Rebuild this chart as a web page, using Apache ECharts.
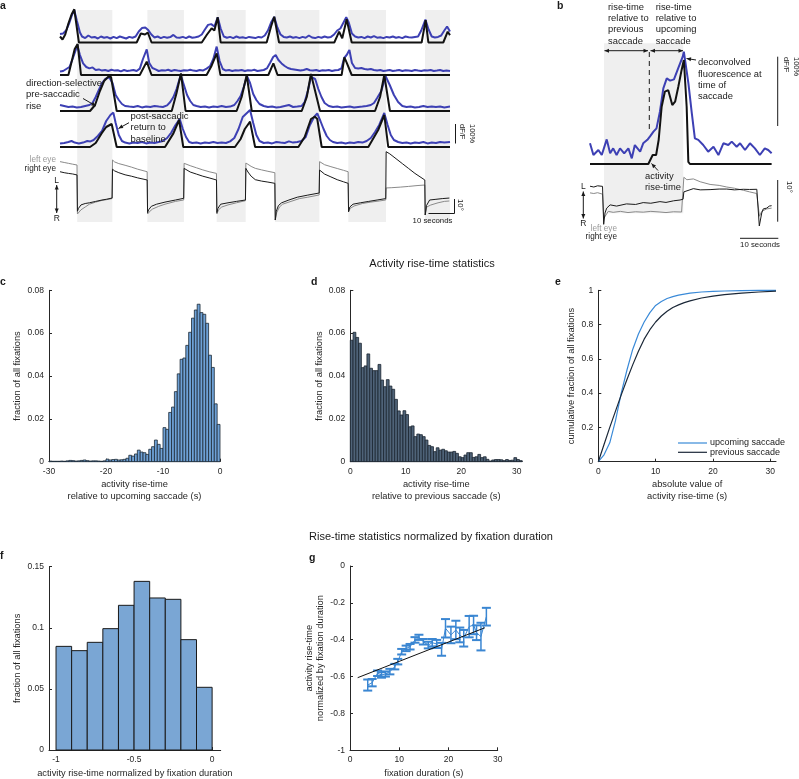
<!DOCTYPE html>
<html><head><meta charset="utf-8">
<script src="https://cdn.jsdelivr.net/npm/echarts@6/dist/echarts.min.js"></script>
<style>html,body{margin:0;padding:0;background:#fff}#c{width:799px;height:779px}</style>
</head><body><div id="c"></div><script>
// ---------- Panel a data (time in s, dF/F in %) ----------
const aBands = [[8.2,24.9],[41.6,59],[74.6,88.4],[102.4,123.5],[137.3,155.2],[173.8,185.7]];
const a1Black = [[0,30],[1.2,15],[2.5,40],[4,95],[5.5,140],[6.8,166],[9,0],[36.5,0],[38.5,45],[39.3,54],[40.5,40],[41.8,50],[43.6,0],[67.5,0],[70,40],[72.2,71],[73.5,60],[75.1,126],[76.5,0],[98.4,0],[100.5,80],[102,129],[104.3,0],[130.6,0],[132.9,54],[134.4,21],[136.5,116],[138.9,0],[172.2,0],[174.1,112],[175.4,0],[182.5,0],[184.6,54],[185.7,37]];
const a1Blue = [[0,42],[1.5,45],[3,62],[4.5,100],[5.8,140],[6.8,162],[8,110],[9.5,50],[10.5,30],[12,22],[13.5,35],[15,25],[16.5,28],[18,20],[19.5,30],[21,24],[22.5,27],[24,20],[25.5,28],[27,22],[28.5,30],[30,25],[31.5,20],[33,28],[34.5,24],[36,30],[37.5,55],[39,72],[40.6,75],[42,62],[43.5,40],[45,25],[46.5,30],[48,22],[49.5,28],[51,24],[52.5,27],[54,38],[55.5,25],[57,24],[58.5,28],[60,22],[61.5,30],[63,24],[64.5,26],[66,30],[67.5,40],[69,65],[70.5,88],[72,92],[73.5,80],[75.1,126],[76.5,70],[78,30],[79.5,24],[81,28],[82.5,22],[84,30],[85.5,24],[87,26],[88.5,22],[90,28],[91.5,25],[93,22],[94.5,28],[96,25],[97.5,35],[99,60],[100.5,100],[102,128],[103.5,75],[105,40],[106.5,28],[108,25],[109.5,30],[111,24],[112.5,27],[114,22],[115.5,28],[117,24],[118.5,35],[120,25],[121.5,22],[123,28],[124.5,24],[126,30],[127.5,25],[129,28],[130.5,40],[132,60],[133.5,70],[135,100],[136.3,126],[137.5,100],[139,45],[140.5,30],[142,25],[143.5,28],[145,22],[146.5,30],[148,25],[149.5,32],[151,24],[152.5,26],[154,22],[155.5,28],[157,25],[158.5,30],[160,24],[161.5,27],[163,22],[164.5,30],[166,26],[167.5,25],[169,28],[170.5,30],[172,60],[174,115],[175.5,65],[177,30],[178.5,25],[180,28],[181.5,35],[183,60],[184.3,80],[185.7,55]];
const a2Black = [[0,0],[4,0],[7,130],[8.4,155],[10,0],[38,0],[41.3,67],[43.6,0],[69.8,0],[72,42],[74.6,108],[76.4,0],[99.2,0],[101.6,58],[103.6,0],[134.1,0],[135.4,88],[136.5,62],[137.3,72],[138.9,0],[185.7,0]];
const a2Blue = [[0,17],[1.5,20],[3,30],[4.5,40],[6,80],[7.5,125],[8.2,150],[9.5,100],[11,58],[12.5,40],[14,33],[15.5,38],[17,25],[18.5,28],[20,22],[21.5,25],[23,20],[24.5,26],[26,22],[27.5,24],[29,18],[30.5,25],[32,20],[33.5,22],[35,25],[36.5,20],[38,32],[39.5,80],[41.3,128],[42.5,60],[44,35],[45.5,28],[47,20],[48.5,24],[50,22],[51.5,26],[53,20],[54.5,25],[56,22],[57.5,20],[59,24],[60.5,22],[62,26],[63.5,22],[65,20],[66.5,25],[68,22],[69.8,32],[71.5,45],[73,80],[74.6,142],[76,70],[77.5,30],[79,22],[80.5,25],[82,20],[83.5,24],[85,22],[86.5,25],[88,20],[89.5,24],[91,22],[92.5,26],[94,20],[95.5,23],[97,25],[98.5,33],[100,60],[101.5,90],[102.7,100],[104,75],[105.5,58],[107,45],[108.5,35],[110,30],[111.5,28],[113,25],[114.5,22],[116,25],[117.5,30],[119,24],[120.5,22],[122,25],[123.5,20],[125,24],[126.5,22],[128,25],[129.5,20],[131,24],[132.5,25],[134,33],[135.3,85],[136.5,100],[137.8,125],[139,60],[140.5,35],[142,33],[143.5,35],[145,30],[146.5,28],[148,30],[149.5,25],[151,22],[152.5,25],[154,20],[155.5,22],[157,25],[158.5,20],[160,22],[161.5,25],[163,20],[164.5,24],[166,22],[167.5,20],[169,25],[170.5,22],[172,20],[173.5,24],[175,22],[176.5,25],[178,20],[179.5,22],[181,25],[182.5,20],[184,22],[185.7,20]];
const a3Black = [[0,0],[14.3,0],[16.7,30],[19,100],[21,150],[23,172],[24.3,170],[27,0],[53.2,0],[55.5,90],[57.6,188],[59.8,0],[84.1,0],[86.5,70],[88.9,180],[91.3,0],[115.1,0],[117.5,70],[119.5,185],[123.8,0],[150,0],[152.4,70],[154.4,180],[157.1,0],[185.7,0]];
const a3Blue = [[0,30],[2,25],[4,20],[6,22],[8,18],[10,20],[12,25],[14,30],[15.5,40],[17,70],[18.5,105],[20,140],[21.5,160],[23.5,168],[25,140],[26.5,80],[28,55],[29.5,35],[31,25],[33,22],[35,20],[37,25],[39,18],[41,22],[43,20],[45,25],[47,22],[49,20],[51,28],[52.5,45],[54,70],[55.5,110],[57.5,180],[59,130],[60.5,80],[62,50],[63.5,30],[65,25],[67,20],[69,22],[71,18],[73,22],[75,20],[77,25],[79,20],[81,22],[83,30],[84.5,50],[86,75],[87.5,120],[89,175],[90.5,140],[92,85],[93.5,55],[95,35],[97,25],[99,20],[101,22],[103,18],[105,20],[107,25],[109,30],[111,20],[113,22],[115,25],[116.5,45],[118,100],[119.5,170],[121.5,160],[123,110],[124.5,70],[126,40],[128,25],[130,20],[132,22],[134,18],[136,20],[138,22],[140,18],[142,20],[144,22],[146,25],[148,30],[149.5,40],[151,65],[153,100],[155,175],[157,130],[159,80],[161,45],[163,25],[165,20],[167,22],[169,18],[171,20],[173,25],[175,20],[177,22],[179,20],[181,22],[183,18],[185.7,22]];
const a4Black = [[0,0],[14.3,0],[17,20],[19.8,68],[22,100],[24.6,115],[25.5,110],[27,0],[50,0],[54,68],[56.7,135],[58.7,0],[83.3,0],[86,40],[88,90],[90.5,127],[92.9,0],[113.5,0],[116.5,50],[119.5,140],[121.4,152],[122.5,140],[124.6,0],[146.8,0],[151.5,85],[154.4,160],[156.3,0],[185.7,0]];
const a4Blue = [[0,17],[2,20],[4,25],[5.5,30],[7,22],[9,18],[11,22],[13,30],[14.5,28],[16,35],[18,55],[20,80],[22,130],[24,160],[25.4,172],[26.5,120],[28,60],[29.5,30],[31,22],[33,18],[35,22],[37,20],[39,25],[41,18],[43,22],[45,20],[47,25],[49,30],[51,45],[53,72],[55,110],[57,140],[58.5,90],[60,50],[61.5,25],[63,20],[65,22],[67,18],[69,22],[71,20],[73,25],[75,20],[77,22],[79,20],[81,28],[83,45],[85,90],[87,150],[89,170],[90.5,185],[92,120],[93.5,60],[95,30],[97,20],[99,22],[101,18],[103,25],[105,22],[107,20],[109,28],[111,22],[113,25],[115,30],[117,50],[119,110],[121,150],[122.5,168],[124,130],[125.5,90],[127,55],[128.5,35],[130,25],[132,20],[134,22],[136,18],[138,22],[140,20],[142,25],[144,22],[146,30],[148,45],[150,75],[152,110],[154.4,170],[156,110],[157.5,60],[159,35],[161,25],[163,20],[165,22],[167,18],[169,22],[171,20],[173,25],[175,18],[177,22],[179,20],[181,25],[183,22],[185.7,25]];
// eye position (deg), right eye = black, left eye = gray
const aEyeRight = [[0,10.2],[2,9.5],[4,9],[6,8.6],[8.1,7.9],[8.3,-18],[8.8,-16],[10,-13.5],[12,-12.5],[14,-12],[17,-11],[20,-10],[22,-9.5],[24.8,-8.6],[25,12],[26,10.8],[28,9.5],[31,8],[34,7],[37,5.8],[41.5,4.3],[41.7,-19],[42.2,-17],[43.5,-14.5],[46,-13],[50,-11.5],[55,-10],[58.9,-8.8],[59.1,12.6],[60,11.5],[62,10],[65,8.5],[68,7],[71,5.8],[74.5,4.3],[74.7,-19],[75.2,-16],[76.5,-13],[80,-12],[84,-11],[88.3,-10],[88.5,12.6],[89.5,10],[91,7],[93,4.5],[96,3.5],[99,2.8],[102.3,1.9],[102.5,-24.3],[103,-18],[104,-14],[105.5,-12],[109,-10],[113,-8],[118,-6.5],[123.4,-5],[123.6,11.4],[124.5,10.2],[126,8.5],[129,6.5],[132,4.5],[135,3],[137.2,1.9],[137.4,-18.4],[138,-15],[139.5,-13],[143,-12],[147,-11],[151,-10],[155.1,-9],[155.3,24.5],[157,23],[160,19.5],[163,16],[166,12.5],[169,9],[173.7,4.3],[173.9,-20.7],[174.5,-14],[176,-10],[179,-9.5],[182,-9],[185.4,-8.6]];
const aEyeLeft = [[0,17.4],[2,16.8],[4,16.2],[6,15.6],[8.1,15],[8.3,-20],[9,-19],[10,-17],[12,-15],[14,-13],[17,-11.5],[20,-10.3],[22,-9.8],[24.8,-9],[25,18.6],[26,17.2],[28,16],[31,14.8],[34,13.5],[37,12],[41.5,10.2],[41.7,-20],[42.5,-18.5],[44,-16.5],[47,-14.5],[50,-13],[55,-11],[58.9,-10],[59.1,16.2],[60,15.5],[62,14.5],[65,13],[68,11.5],[71,10.2],[74.5,9],[74.7,-20],[75.5,-17],[77,-15],[80,-13.5],[84,-12],[88.3,-10.5],[88.5,16.4],[89.5,15.5],[91,14],[93,12.6],[96,11.5],[99,10.5],[102.3,9.5],[102.5,-24.3],[103.2,-19],[104.5,-15],[106,-13],[110,-11],[114,-9],[118,-8],[123.4,-6.4],[123.6,17.4],[124.5,16.5],[126,15.2],[129,13.8],[132,12.5],[135,11.2],[137.2,10.2],[137.4,-18.4],[138.2,-16],[140,-14.3],[144,-12.5],[148,-11.5],[152,-10.7],[155.1,-10],[155.3,-1.4],[158,-1.2],[162,-0.8],[166,-0.3],[170,0.3],[173.7,0.7],[173.9,-20.7],[174.6,-15],[176.5,-13.6],[180,-12],[183,-11],[185.4,-10.7]];

// ---------- Panel b data ----------
const bBands = [[3.68,24.55]];
const bBlue = [[0,30],[0.9,13],[2.2,20.3],[3.1,13],[4.4,35.7],[5.3,15.5],[6.1,22.7],[7,13],[7.9,22.7],[9,15.5],[10.1,22.7],[11,8.2],[11.8,27.5],[13.2,17.9],[14,30],[15.1,35],[15.8,40],[16.7,47],[17.5,51.7],[18.4,75.8],[19.3,109.7],[20.2,124.2],[21.1,120.8],[22.1,122.7],[23.2,138.7],[24.4,155.6],[24.7,162.8],[25.9,117],[26.8,73.4],[27.6,37.2],[28.5,35],[29.8,27.5],[31.1,17.9],[32.5,25.1],[33.8,13],[35.1,30],[36.4,27.5],[37.3,32.4],[38.6,25.1],[39.5,30],[40.8,20.3],[42.1,30],[43.4,22.7],[44.7,13],[46,22.7],[46.9,20.3],[47.8,15.5]];
const bBlack = [[0,0],[15.35,0],[16.5,13],[17.4,13],[18.07,34.8],[18.86,83],[19.7,104.8],[20.6,107],[21.66,85.5],[22.4,90.3],[23.24,112],[24.1,136],[24.7,150.7],[25.44,83],[25.88,3],[26.3,0],[47.8,0]];
const bEyeRight = [[0,3.4],[1,3.2],[2,3.5],[3.3,3.36],[3.6,-6],[3.95,-3.2],[4.4,-2],[5.3,-1.2],[7,-1.5],[9.6,-0.96],[12,-1.1],[14,-0.64],[16,-0.8],[18.4,-0.4],[20,-0.6],[22,-0.2],[23.7,0],[24.5,0.2],[24.7,2],[25,2],[27.2,2.8],[29,2.5],[31.6,2.56],[34,2.7],[36,2.7],[38,2.5],[40.35,2.64],[42,2.6],[43.9,2.64],[44.2,2.5],[44.56,-6.4],[45.2,-3.2],[45.6,-2.2],[46.5,-2],[47.2,-1.5],[47.8,-1.4]];
const bEyeLeft = [[0,1.76],[1,1.6],[2,1.8],[3.3,1.44],[3.6,-4.5],[4,-4],[4.8,-2.8],[6.1,-3.04],[8,-2.8],[10,-3.1],[12,-2.9],[14,-3.0],[16,-2.8],[18.4,-2.96],[20,-3.1],[22,-2.9],[24.1,-2.96],[24.4,-2.8],[24.7,5.6],[25.5,5.0],[27.2,5.2],[29,4.5],[31.6,3.84],[34,3.6],[36,3.2],[38,2.9],[40.35,2.4],[42,2.0],[43.86,1.6],[44.3,1.4],[44.6,-4],[45.2,-2.8],[45.6,-2.5],[46.5,-2.2],[47.8,-2]];

// ---------- Panel c: histogram, rise-time relative to upcoming saccade ----------
const cBinStart = -30, cBinWidth = 0.5;
const cValues = [0.0003,0.0002,0.0002,0.0002,0.0003,0.0002,0.0004,0.0006,0.0005,0.0003,0.0004,0.0006,0.0008,0.0005,0.0003,0.0004,0.0004,0.0003,0.0002,0.0004,
 0.0012,0.0008,0.001,0.0011,0.0008,0.0009,0.0011,0.0016,0.003,0.0026,0.0036,0.0054,0.0045,0.0042,0.0034,0.0058,0.007,0.0101,0.0081,0.0062,
 0.0159,0.0151,0.023,0.0255,0.0327,0.041,0.0478,0.0484,0.0543,0.0604,0.067,0.0708,0.0735,0.0696,0.0688,0.0646,0.0497,0.044,0.027,0.0174];
// ---------- Panel d: histogram, rise-time relative to previous saccade ----------
const dBinStart = 0, dBinWidth = 0.5;
const dValues = [0.0567,0.0604,0.058,0.0553,0.0439,0.0447,0.0503,0.0436,0.0425,0.0425,
 0.0454,0.0381,0.035,0.0383,0.0353,0.0338,0.0291,0.0237,0.0218,0.0238,
 0.022,0.0163,0.0167,0.0117,0.0129,0.0126,0.0117,0.0101,0.0076,0.007,
 0.0047,0.0065,0.0054,0.0058,0.0051,0.0045,0.0045,0.0048,0.0039,0.0023,
 0.0019,0.0031,0.0042,0.0042,0.002,0.0023,0.0034,0.0019,0.0023,0.0011,
 0.0003,0.0008,0.001,0.001,0.0009,0.0005,0.001,0.0006,0.0007,0.0019,0.001,0.0005];
// ---------- Panel e: cumulative distributions ----------
const eX = [0,1,2,3,4,5,6,7,8,9,10,11,12,13,14,15,16,18,20,22,25,28,31];
const eUpcoming = [0,0.04,0.11,0.24,0.4,0.535,0.655,0.745,0.815,0.87,0.912,0.935,0.952,0.963,0.972,0.978,0.983,0.99,0.994,0.996,0.998,0.999,1];
const ePrevious = [0,0.1,0.2,0.295,0.39,0.48,0.565,0.645,0.715,0.77,0.815,0.85,0.878,0.9,0.915,0.928,0.938,0.955,0.966,0.975,0.984,0.99,0.995];
// ---------- Panel f: normalized rise-time histogram ----------
const fBinStart = -1, fBinWidth = 0.1;
const fValues = [0.0848,0.0813,0.0881,0.0993,0.1184,0.138,0.1244,0.1233,0.0903,0.0513];
// ---------- Panel g: normalized rise-time vs fixation duration ----------
const gX = [3.6,4.5,5.6,6.4,7.2,8.1,9.1,9.7,10.5,11.4,12.2,13.2,14.0,14.9,15.9,16.7,17.6,18.6,19.4,20.5,21.5,22.3,23.1,24.2,25.1,25.7,26.6,27.7];
const gY = [-0.646,-0.633,-0.582,-0.591,-0.586,-0.573,-0.546,-0.519,-0.465,-0.447,-0.438,-0.401,-0.387,-0.411,-0.429,-0.416,-0.423,-0.452,-0.338,-0.374,-0.347,-0.374,-0.392,-0.329,-0.320,-0.362,-0.383,-0.275];
const gErr = [0.03,0.02,0.015,0.015,0.014,0.015,0.015,0.015,0.015,0.015,0.015,0.015,0.014,0.015,0.018,0.02,0.022,0.035,0.05,0.045,0.05,0.04,0.045,0.058,0.05,0.04,0.075,0.048];
const gFit = [[1.56,-0.606],[27.4,-0.335]];

// ---------- drawing ----------
const FONT = '"Liberation Sans", Arial, Helvetica, sans-serif';
const AX = '#262626';
const BLUE_TRACE = '#3d40b4', BLACK_TRACE = '#121212', GRAY_EYE = '#8a8a8a';

const grids = [
  {left:60, top:10, width:390, height:212},      //0 a bands
  {left:60, top:2.5, width:390, height:40},      //1 a row1
  {left:60, top:35, width:390, height:40},       //2 a row2
  {left:60, top:71, width:390, height:40},       //3 a row3
  {left:60, top:107, width:390, height:40},      //4 a row4
  {left:60, top:151, width:390, height:70},      //5 a eye
  {left:590, top:43.3, width:182, height:170},   //6 b band
  {left:590, top:46.7, width:182, height:117.3}, //7 b neural
  {left:590, top:170.8, width:182, height:58.4}, //8 b eye
  {left:49, top:290.3, width:171, height:171.4}, //9 c
  {left:350.3, top:290.3, width:171.9, height:171.4}, //10 d
  {left:598.3, top:290.3, width:177.7, height:171.4}, //11 e
  {left:49, top:566.7, width:171.7, height:183.3},    //12 f
  {left:350, top:566, width:147.7, height:184.3}      //13 g
].map(g => Object.assign({containLabel:false, outerBoundsMode:'none'}, g));

function hid(grid, min, max){ return {type:'value', gridIndex:grid, min, max, show:false, splitLine:{show:false}}; }
function vis(grid, min, max, o){
  return {type:'value', gridIndex:grid, min, max, interval:o.interval,
    axisLine:{show:true, onZero:false, lineStyle:{color:AX, width:1}},
    axisTick:{show:true, inside:true, length:3, lineStyle:{color:AX}, customValues:o.ticks},
    axisLabel:{fontSize:8.5, color:AX, fontFamily:FONT, margin:o.margin||5, customValues:o.ticks},
    splitLine:{show:false},
    name:o.name, nameLocation:'middle', nameGap:o.gap, nameRotate:o.rot||0,
    nameTextStyle:{fontSize:9.3, color:AX, fontFamily:FONT, lineHeight:11.5}};
}
const xAxis = [
  hid(0,0,185.7),hid(1,0,185.7),hid(2,0,185.7),hid(3,0,185.7),hid(4,0,185.7),hid(5,0,185.7),
  hid(6,0,47.9),hid(7,0,47.9),hid(8,0,47.9),
  vis(9,-30,0,{interval:10, name:'activity rise-time\nrelative to upcoming saccade (s)', gap:17}),
  vis(10,0,31,{ticks:[0,10,20,30], name:'activity rise-time\nrelative to previous saccade (s)', gap:17}),
  vis(11,0,31,{ticks:[0,10,20,30], name:'absolute value of\nactivity rise-time (s)', gap:17}),
  vis(12,-1.045,0.055,{ticks:[-1,-0.5,0], name:'activity rise-time normalized by fixation duration', gap:18}),
  vis(13,0,30,{interval:10, name:'fixation duration (s)', gap:17})
];
const yAxis = [
  hid(0,0,1),hid(1,0,200),hid(2,0,200),hid(3,0,200),hid(4,0,200),hid(5,-25,25),
  hid(6,0,1),hid(7,0,170),hid(8,-7.2,7.2),
  vis(9,0,0.08,{interval:0.02, name:'fraction of all fixations', gap:24, rot:90}),
  vis(10,0,0.08,{interval:0.02, name:'fraction of all fixations', gap:24, rot:90}),
  vis(11,0,1,{interval:0.2, name:'cumulative fraction of all fixations', gap:18, rot:90}),
  vis(12,0,0.15,{interval:0.05, name:'fraction of all fixations', gap:24, rot:90}),
  vis(13,-1,0,{interval:0.2, name:'activity rise-time\nnormalized by fixation duration', gap:18, rot:90})
];

function line(idx, data, color, width, z){
  return {type:'line', xAxisIndex:idx, yAxisIndex:idx, data, symbol:'none', showSymbol:false, silent:true,
    clip:false, z:z||3, lineStyle:{color, width}, animation:false};
}
function bandSeries(idx, bands){
  return {type:'custom', xAxisIndex:idx, yAxisIndex:idx, data:bands, silent:true, z:0,
    renderItem:(p, api) => { const a = api.coord([api.value(0),1]); const b = api.coord([api.value(1),0]);
      return {type:'rect', shape:{x:a[0], y:a[1], width:b[0]-a[0], height:b[1]-a[1]}, style:{fill:'#efefef'}}; }};
}
function hist(idx, start, w, vals, fill, stroke, lw){
  const data = vals.map((v,i) => [start+i*w, start+(i+1)*w, v]);
  return {type:'custom', xAxisIndex:idx, yAxisIndex:idx, data, silent:true, encode:{x:[0,1], y:2},
    renderItem:(p, api) => { const a = api.coord([api.value(0), api.value(2)]); const b = api.coord([api.value(1), 0]);
      return {type:'rect', shape:{x:a[0], y:a[1], width:b[0]-a[0], height:b[1]-a[1]}, style:{fill, stroke, lineWidth:lw}}; }};
}
const zip = (xs, ys) => xs.map((x,i) => [x, ys[i]]);
const G_BLUE = '#3a86d2';

const series = [
  bandSeries(0, aBands),
  line(1, a1Blue, BLUE_TRACE, 2), line(1, a1Black, BLACK_TRACE, 2, 4),
  line(2, a2Blue, BLUE_TRACE, 2), line(2, a2Black, BLACK_TRACE, 2, 4),
  line(3, a3Blue, BLUE_TRACE, 2), line(3, a3Black, BLACK_TRACE, 2, 4),
  line(4, a4Blue, BLUE_TRACE, 2), line(4, a4Black, BLACK_TRACE, 2, 4),
  line(5, aEyeLeft, GRAY_EYE, 1), line(5, aEyeRight, '#1a1a1a', 1, 4),
  bandSeries(6, bBands),
  line(7, bBlue, BLUE_TRACE, 2), line(7, bBlack, BLACK_TRACE, 2, 4),
  line(8, bEyeLeft, GRAY_EYE, 1), line(8, bEyeRight, '#1a1a1a', 1, 4),
  hist(9, cBinStart, cBinWidth, cValues, '#6ea1d6', '#1d2935', 0.8),
  hist(10, dBinStart, dBinWidth, dValues, '#4f6378', '#1a2430', 0.8),
  line(11, zip(eX, eUpcoming), '#3a8ad8', 1.2),
  line(11, zip(eX, ePrevious), '#1b2838', 1.2),
  hist(12, fBinStart, fBinWidth, fValues, '#7aa6d4', '#1a1a1a', 1),
  line(13, zip(gX, gY), G_BLUE, 1),
  {type:'custom', xAxisIndex:13, yAxisIndex:13, silent:true, z:4,
   data: gX.map((x,i) => [x, gY[i], gErr[i]]),
   renderItem:(p, api) => { const x = api.value(0), y = api.value(1), e = api.value(2);
     const t = api.coord([x, y+e]), b = api.coord([x, y-e]); const hw = 4.5;
     const st = {stroke:G_BLUE, lineWidth:1.5};
     return {type:'group', children:[
       {type:'line', shape:{x1:t[0], y1:t[1], x2:b[0], y2:b[1]}, style:st},
       {type:'line', shape:{x1:t[0]-hw, y1:t[1], x2:t[0]+hw, y2:t[1]}, style:{stroke:G_BLUE, lineWidth:2}},
       {type:'line', shape:{x1:b[0]-hw, y1:b[1], x2:b[0]+hw, y2:b[1]}, style:{stroke:G_BLUE, lineWidth:2}}]}; }},
  line(13, gFit, '#111', 1, 5)
];

// ---------- annotation graphics ----------
function txt(x, y, text, o){ o = o || {};
  return {type:'text', x, y, rotation:o.rot||0, silent:true, z:10,
    style:{text, fill:o.color||'#1a1a1a', fontSize:o.size||9.4, fontFamily:FONT, fontWeight:o.weight||'normal',
      align:o.align||'left', verticalAlign:o.va||'top', lineHeight:o.lh||11.5}}; }
function seg(x1,y1,x2,y2,o){ o = o || {};
  return {type:'line', silent:true, z:10, shape:{x1,y1,x2,y2}, style:{stroke:o.color||'#1a1a1a', lineWidth:o.w||1, lineDash:o.dash||null}}; }
function head(x, y, ang){ const L=4.5, W=2;
  const bx = x - L*Math.cos(ang), by = y - L*Math.sin(ang), px = -Math.sin(ang)*W, py = Math.cos(ang)*W;
  return {type:'polygon', silent:true, z:10, shape:{points:[[x,y],[bx+px,by+py],[bx-px,by-py]]}, style:{fill:'#1a1a1a'}}; }
function arrow(x1,y1,x2,y2,dbl){ const ang = Math.atan2(y2-y1, x2-x1);
  const out = [seg(x1,y1,x2,y2), head(x2,y2,ang)]; if (dbl) out.push(head(x1,y1,ang+Math.PI)); return out; }

const ROT = -Math.PI/2;
const graphic = [
  // panel labels
  txt(0, 0, 'a', {weight:'bold', size:10.5}), txt(557, 0, 'b', {weight:'bold', size:10.5}),
  txt(0, 276, 'c', {weight:'bold', size:10.5}), txt(311, 276, 'd', {weight:'bold', size:10.5}),
  txt(555, 276, 'e', {weight:'bold', size:10.5}), txt(0, 550, 'f', {weight:'bold', size:10.5}),
  txt(309, 552, 'g', {weight:'bold', size:10.5}),
  // section titles
  txt(432, 264, 'Activity rise-time statistics', {size:11, align:'center', va:'middle'}),
  txt(431, 537, 'Rise-time statistics normalized by fixation duration', {size:11, align:'center', va:'middle'}),
  // panel a annotations
  txt(26, 77.5, 'direction-selective\npre-saccadic\nrise', {size:9.5}),
  ...arrow(83, 98.5, 96, 106),
  txt(130.5, 110.5, 'post-saccadic\nreturn to\nbaseline', {size:9.5}),
  ...arrow(129, 122.7, 118.5, 128.5),
  txt(56, 160, 'left eye', {size:8.2, align:'right', va:'middle', color:'#999'}),
  txt(56, 169, 'right eye', {size:8.2, align:'right', va:'middle'}),
  txt(56.7, 180.5, 'L', {size:8.5, align:'center', va:'middle'}),
  txt(56.7, 218.5, 'R', {size:8.5, align:'center', va:'middle'}),
  ...arrow(56.7, 185, 56.7, 213, true),
  seg(455.5, 124, 455.5, 143.5),
  txt(467, 124, '100%\ndF/F', {size:7.5, rot:ROT, va:'middle', lh:10.5}),
  seg(454.5, 199, 454.5, 213.5),
  seg(428.5, 213.5, 454.5, 213.5),
  txt(460.5, 199, '10°', {size:7.8, rot:ROT, va:'middle'}),
  txt(432.5, 221, '10 seconds', {size:7.8, align:'center', va:'middle'}),
  // panel b annotations
  txt(608, 1.6, 'rise-time\nrelative to\nprevious\nsaccade', {size:9.4, lh:11.3}),
  txt(655.7, 1.6, 'rise-time\nrelative to\nupcoming\nsaccade', {size:9.4, lh:11.3}),
  ...arrow(604.5, 50.7, 648, 50.7, true),
  ...arrow(650.5, 50.7, 683, 50.7, true),
  seg(649.3, 52, 649.3, 130, {dash:[5,4]}),
  txt(698, 57, 'deconvolved\nfluorescence at\ntime of\nsaccade', {size:9.4, lh:11.3}),
  ...arrow(696, 60, 686.5, 58.5),
  txt(645, 171, 'activity\nrise-time', {size:9.4, lh:11}),
  ...arrow(658, 170.5, 651.5, 163.5),
  txt(583.3, 186.7, 'L', {size:8.5, align:'center', va:'middle'}),
  txt(583.3, 224, 'R', {size:8.5, align:'center', va:'middle'}),
  ...arrow(583.3, 191.5, 583.3, 218.5, true),
  txt(617, 228.3, 'left eye', {size:8.2, align:'right', va:'middle', color:'#999'}),
  txt(617, 236.7, 'right eye', {size:8.2, align:'right', va:'middle'}),
  seg(777.7, 56.7, 777.7, 126),
  txt(791, 57, '100%\ndF/F', {size:7.5, rot:ROT, va:'middle', lh:9.5}),
  seg(777.7, 180, 777.7, 221.7),
  txt(789, 181, '10°', {size:7.8, rot:ROT, va:'middle'}),
  seg(740, 238.3, 778.3, 238.3),
  txt(760, 244.5, '10 seconds', {size:7.8, align:'center', va:'middle'}),
  // panel e legend
  seg(678, 443, 707, 443, {color:'#3a8ad8', w:1.2}),
  txt(710, 443, 'upcoming saccade', {size:9, va:'middle'}),
  seg(678, 452.3, 707, 452.3, {color:'#1b2838', w:1.2}),
  txt(710, 452.3, 'previous saccade', {size:9, va:'middle'})
];

const chart = echarts.init(document.getElementById('c'), null, {renderer:'canvas'});
chart.setOption({animation:false, backgroundColor:'#fff', textStyle:{fontFamily:FONT},
  grid:grids, xAxis, yAxis, series, graphic});
</script></body></html>
